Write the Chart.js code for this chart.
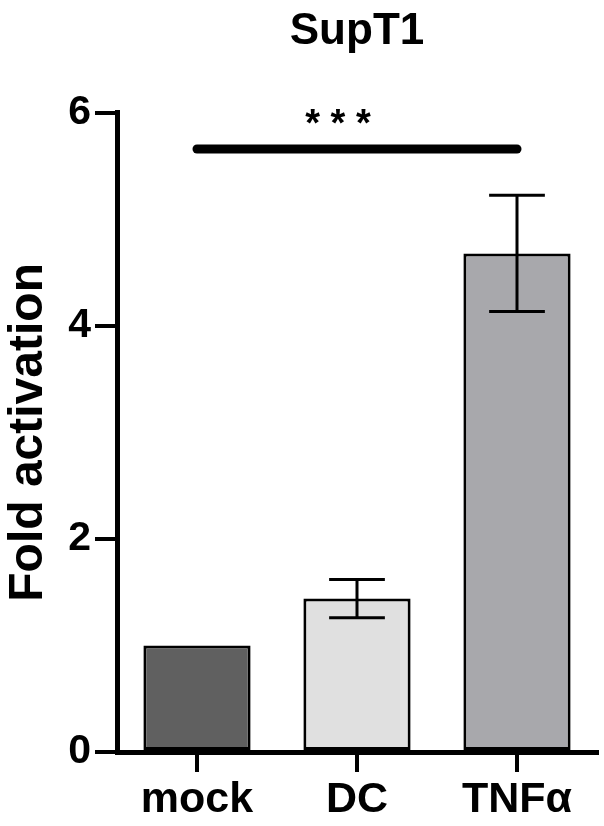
<!DOCTYPE html>
<html>
<head>
<meta charset="utf-8">
<script src="https://cdn.jsdelivr.net/npm/chart.js@4.4.0/dist/chart.umd.min.js"></script>
<style>
    html, body { margin: 0; padding: 0; background: #fff; }
    #wrap { width: 604px; height: 826px; }
</style>
</head>
<body>
<div id="wrap"><canvas id="myChart" width="604" height="826"></canvas></div>
<script>
// du lieu
const labels = ['mock', 'DC', 'TNFα']
const means = [1.0, 1.44, 4.68]
const errors = [0, 0.18, 0.545]
const barColors = ['#606060', '#e0e0e0', '#a8a8ac']
const yTicks = [0, 2, 4, 6]
const sigFrom = 0
const sigTo = 2
const sigValue = 5.66
const sigText = '* * *'

const fontName = '"Liberation Sans", Arial, Helvetica, sans-serif'

// ve error bar
const errorBarPlugin = {
    id: 'errorBars',
    afterDatasetsDraw(chart) {
        const ctx = chart.ctx
        const meta = chart.getDatasetMeta(0)
        const y = chart.scales.y
        ctx.save()
        ctx.strokeStyle = '#000'
        ctx.lineWidth = 3
        for (let i = 0; i < means.length; i++) {
            if (!errors[i]) continue
            const bar = meta.data[i]
            const half = bar.width * 0.26
            const top = y.getPixelForValue(means[i] + errors[i])
            const bot = y.getPixelForValue(means[i] - errors[i])
            ctx.beginPath()
            ctx.moveTo(bar.x, top)
            ctx.lineTo(bar.x, bot)
            ctx.moveTo(bar.x - half, top)
            ctx.lineTo(bar.x + half, top)
            ctx.moveTo(bar.x - half, bot)
            ctx.lineTo(bar.x + half, bot)
            ctx.stroke()
        }
        ctx.restore()
    }
}

// ve duong y nghia thong ke
const sigPlugin = {
    id: 'sigLine',
    afterDatasetsDraw(chart) {
        const ctx = chart.ctx
        const meta = chart.getDatasetMeta(0)
        const y = chart.scales.y
        const x1 = meta.data[sigFrom].x
        const x2 = meta.data[sigTo].x
        const yy = y.getPixelForValue(sigValue)
        ctx.save()
        ctx.strokeStyle = '#000'
        ctx.lineWidth = 9
        ctx.lineCap = 'round'
        ctx.beginPath()
        ctx.moveTo(x1, yy)
        ctx.lineTo(x2, yy)
        ctx.stroke()
        ctx.fillStyle = '#000'
        ctx.font = `bold 38px ${fontName}`
        ctx.textAlign = 'center'
        ctx.textBaseline = 'middle'
        ctx.fillText(sigText, (x1 + x2) / 2 - 19, yy - 24)
        ctx.restore()
    }
}

const ctx = document.getElementById('myChart').getContext('2d')
const myChart = new Chart(ctx, {
    type: 'bar',
    data: {
        labels: labels,
        datasets: [{
            data: means,
            backgroundColor: barColors,
            borderColor: '#000',
            borderWidth: 3,
            borderSkipped: false,
            barPercentage: 0.67,
            categoryPercentage: 1.0,
        }]
    },
    options: {
        responsive: false,
        animation: false,
        layout: {
            padding: { left: 0, right: 7, top: 0, bottom: 0 }
        },
        plugins: {
            legend: { display: false },
            tooltip: { enabled: false },
            title: {
                display: true,
                text: 'SupT1',
                fullSize: false,
                color: '#000',
                font: { family: fontName, size: 44, weight: 'bold' },
                padding: { top: 5, bottom: 55 }
            }
        },
        scales: {
            x: {
                afterFit: (scale) => { scale.height = 74 },
                grid: {
                    offset: false,
                    drawOnChartArea: false,
                    drawTicks: true,
                    tickLength: 20,
                    lineWidth: 4,
                    color: '#000'
                },
                border: { display: true, width: 5, color: '#000' },
                ticks: {
                    color: '#000',
                    padding: 2,
                    font: { family: fontName, size: 43, weight: 'bold' }
                }
            },
            y: {
                min: 0,
                max: 6,
                afterFit: (scale) => { scale.width = 117 },
                afterBuildTicks: (scale) => {
                    scale.ticks = yTicks.map(v => ({ value: v }))
                },
                grid: {
                    drawOnChartArea: false,
                    drawTicks: true,
                    tickLength: 22,
                    lineWidth: 4,
                    color: '#000'
                },
                border: { display: true, width: 5, color: '#000' },
                ticks: {
                    color: '#000',
                    padding: 4,
                    font: { family: fontName, size: 41, weight: 'bold' }
                },
                title: {
                    display: true,
                    text: 'Fold activation',
                    color: '#000',
                    padding: { top: 0, bottom: 0 },
                    font: { family: fontName, size: 48, weight: 'bold' }
                }
            }
        }
    },
    plugins: [errorBarPlugin, sigPlugin]
})
</script>
</body>
</html>
